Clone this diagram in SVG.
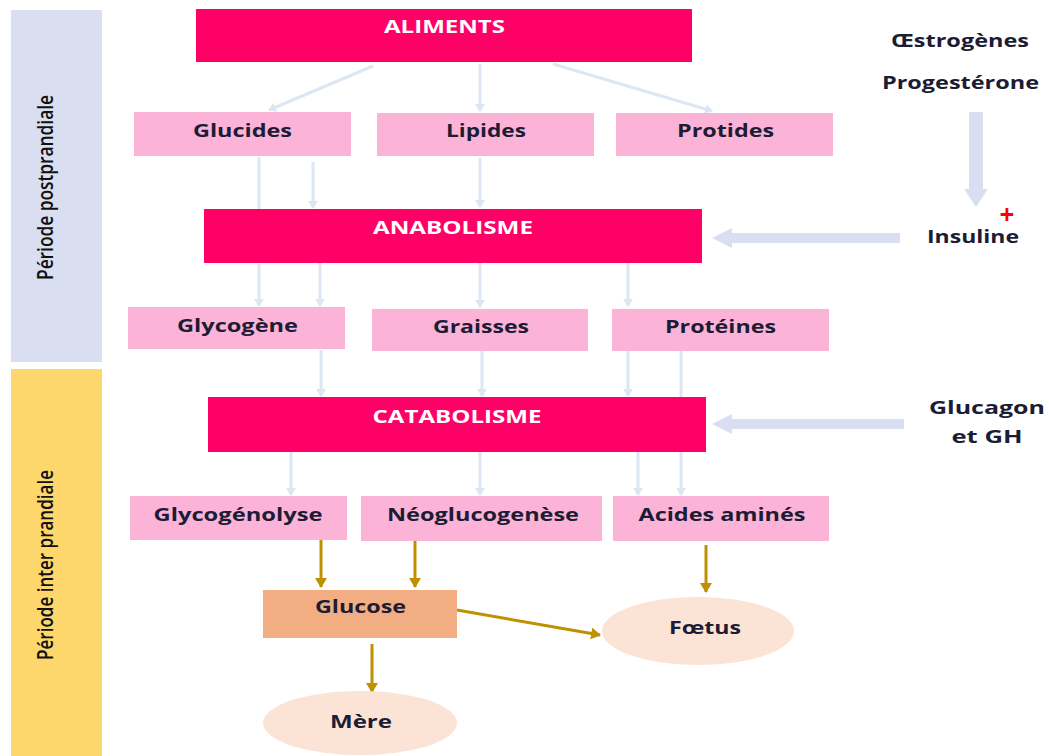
<svg xmlns="http://www.w3.org/2000/svg" width="1049" height="756" viewBox="0 0 1049 756">
<style>
text{font-family:"Open Sans","Noto Sans","Liberation Sans",sans-serif;font-weight:bold;text-anchor:middle}
.lbl{font-size:18px;fill:#1c1c34}
.vt{font-size:21px;font-weight:600;fill:#111111}
.wh{font-size:17px;fill:#ffffff}
.hd{fill:#ff0066}
.pk{fill:#fcb3d8}
.bl{stroke:#dde7f3;stroke-width:3;fill:none;marker-end:url(#ab)}
.bn{stroke:#dde7f3;stroke-width:3;fill:none}
.gd{stroke:#bf9000;stroke-width:3;fill:none;marker-end:url(#ag)}
.fat{stroke:#d9dff0;fill:none}
</style>
<defs>
<marker id="ab" markerWidth="10" markerHeight="10" refX="7" refY="5" orient="auto" markerUnits="userSpaceOnUse"><path d="M0,0 L8,5 L0,10 Z" fill="#dde7f3"/></marker>
<marker id="ag" markerWidth="12" markerHeight="12" refX="9" refY="6" orient="auto" markerUnits="userSpaceOnUse"><path d="M0,0 L10,6 L0,12 Z" fill="#bf9000"/></marker>
</defs>
<rect width="1049" height="756" fill="#ffffff"/>
<g id="band-post"><rect x="11" y="10" width="91" height="352" fill="#d9dff0"/><text class="vt" transform="translate(53,187.5) rotate(-90)" textLength="185" lengthAdjust="spacingAndGlyphs">Période postprandiale</text></g>
<g id="band-inter"><rect x="11" y="369" width="91" height="387" fill="#fdd76c"/><text class="vt" transform="translate(53,565) rotate(-90)" textLength="190" lengthAdjust="spacingAndGlyphs">Période inter prandiale</text></g>
<g id="connectors">
<line class="bl" x1="373" y1="66" x2="269" y2="110"/>
<line class="bl" x1="480" y1="64" x2="480" y2="111"/>
<line class="bl" x1="553" y1="64" x2="712" y2="111"/>
<line class="bn" x1="259" y1="157" x2="259" y2="209"/>
<line class="bl" x1="313" y1="162" x2="313" y2="208"/>
<line class="bl" x1="480" y1="158" x2="480" y2="207"/>
<line class="bl" x1="259" y1="264" x2="259" y2="306"/>
<line class="bl" x1="320" y1="261" x2="320" y2="306"/>
<line class="bl" x1="480" y1="261" x2="480" y2="307"/>
<line class="bl" x1="628" y1="260" x2="628" y2="306"/>
<line class="bl" x1="321" y1="350" x2="321" y2="396"/>
<line class="bl" x1="482" y1="351" x2="482" y2="396"/>
<line class="bl" x1="628" y1="351" x2="628" y2="396"/>
<line class="bl" x1="681" y1="351" x2="681" y2="495"/>
<line class="bl" x1="291" y1="450" x2="291" y2="495"/>
<line class="bl" x1="480" y1="450" x2="480" y2="495"/>
<line class="bl" x1="638" y1="450" x2="638" y2="495"/>
<line class="gd" x1="321" y1="540" x2="321" y2="587"/>
<line class="gd" x1="415" y1="540" x2="415" y2="587"/>
<line class="gd" x1="706" y1="545" x2="706" y2="592"/>
<line class="gd" x1="457" y1="610" x2="600" y2="635"/>
<line class="gd" x1="372" y1="644" x2="372" y2="692"/>
<path class="fat" d="M976,112 V190" stroke-width="14"/><path d="M964,189 L988,189 L976,207 Z" fill="#d9dff0"/>
<path class="fat" d="M900,238 H730" stroke-width="10"/><path d="M732,228 L732,248 L712,238 Z" fill="#d9dff0"/>
<path class="fat" d="M904,424 H730" stroke-width="10"/><path d="M732,414 L732,434 L712,424 Z" fill="#d9dff0"/>
</g>
<g id="aliments"><rect class="hd" x="196" y="9" width="496" height="53"/><text class="wh" x="444.5" y="33" textLength="121" lengthAdjust="spacingAndGlyphs">ALIMENTS</text></g>
<g id="glucides"><rect class="pk" x="134" y="112" width="217" height="44"/><text class="lbl" x="242.5" y="137" textLength="99" lengthAdjust="spacingAndGlyphs">Glucides</text></g>
<g id="lipides"><rect class="pk" x="377" y="113" width="217" height="43"/><text class="lbl" x="486" y="137" textLength="80" lengthAdjust="spacingAndGlyphs">Lipides</text></g>
<g id="protides"><rect class="pk" x="616" y="113" width="217" height="43"/><text class="lbl" x="725.5" y="137" textLength="97" lengthAdjust="spacingAndGlyphs">Protides</text></g>
<g id="anabolisme"><rect class="hd" x="204" y="209" width="498" height="54"/><text class="wh" x="453" y="234" textLength="160" lengthAdjust="spacingAndGlyphs">ANABOLISME</text></g>
<g id="glycogene"><rect class="pk" x="128" y="307" width="217" height="42"/><text class="lbl" x="237.5" y="332" textLength="121" lengthAdjust="spacingAndGlyphs">Glycogène</text></g>
<g id="graisses"><rect class="pk" x="372" y="309" width="216" height="42"/><text class="lbl" x="481" y="333" textLength="96" lengthAdjust="spacingAndGlyphs">Graisses</text></g>
<g id="proteines"><rect class="pk" x="612" y="309" width="217" height="42"/><text class="lbl" x="720.5" y="333" textLength="111" lengthAdjust="spacingAndGlyphs">Protéines</text></g>
<g id="catabolisme"><rect class="hd" x="208" y="397" width="498" height="55"/><text class="wh" x="457" y="423" textLength="169" lengthAdjust="spacingAndGlyphs">CATABOLISME</text></g>
<g id="glycogenolyse"><rect class="pk" x="130" y="496" width="217" height="44"/><text class="lbl" x="238" y="521" textLength="169" lengthAdjust="spacingAndGlyphs">Glycogénolyse</text></g>
<g id="neoglucogenese"><rect class="pk" x="361" y="496" width="241" height="45"/><text class="lbl" x="483" y="521" textLength="192" lengthAdjust="spacingAndGlyphs">Néoglucogenèse</text></g>
<g id="acides"><rect class="pk" x="613" y="496" width="216" height="45"/><text class="lbl" x="722" y="521" textLength="167" lengthAdjust="spacingAndGlyphs">Acides aminés</text></g>
<g id="glucose"><rect x="263" y="590" width="194" height="48" fill="#f2ae82"/><text class="lbl" x="360.5" y="613" textLength="91" lengthAdjust="spacingAndGlyphs">Glucose</text></g>
<g id="mere"><ellipse cx="360" cy="723" rx="97" ry="32" fill="#fbe4d6"/><text class="lbl" x="361" y="728" textLength="62" lengthAdjust="spacingAndGlyphs">Mère</text></g>
<g id="foetus"><ellipse cx="698" cy="631" rx="96" ry="34" fill="#fbe4d6"/><text class="lbl" x="705" y="634" textLength="72" lengthAdjust="spacingAndGlyphs">Fœtus</text></g>
<g id="hormones1"><text class="lbl" x="960" y="47" textLength="138" lengthAdjust="spacingAndGlyphs">Œstrogènes</text><text class="lbl" x="960.5" y="89" textLength="157" lengthAdjust="spacingAndGlyphs">Progestérone</text></g>
<g id="insuline"><text class="lbl" x="973" y="243" textLength="92" lengthAdjust="spacingAndGlyphs">Insuline</text><text x="1007" y="224" style="font-size:26px;fill:#ff0000">+</text></g>
<g id="glucagon"><text class="lbl" x="987" y="414" textLength="116" lengthAdjust="spacingAndGlyphs">Glucagon</text><text class="lbl" x="987" y="443" textLength="71" lengthAdjust="spacingAndGlyphs">et GH</text></g>
</svg>
